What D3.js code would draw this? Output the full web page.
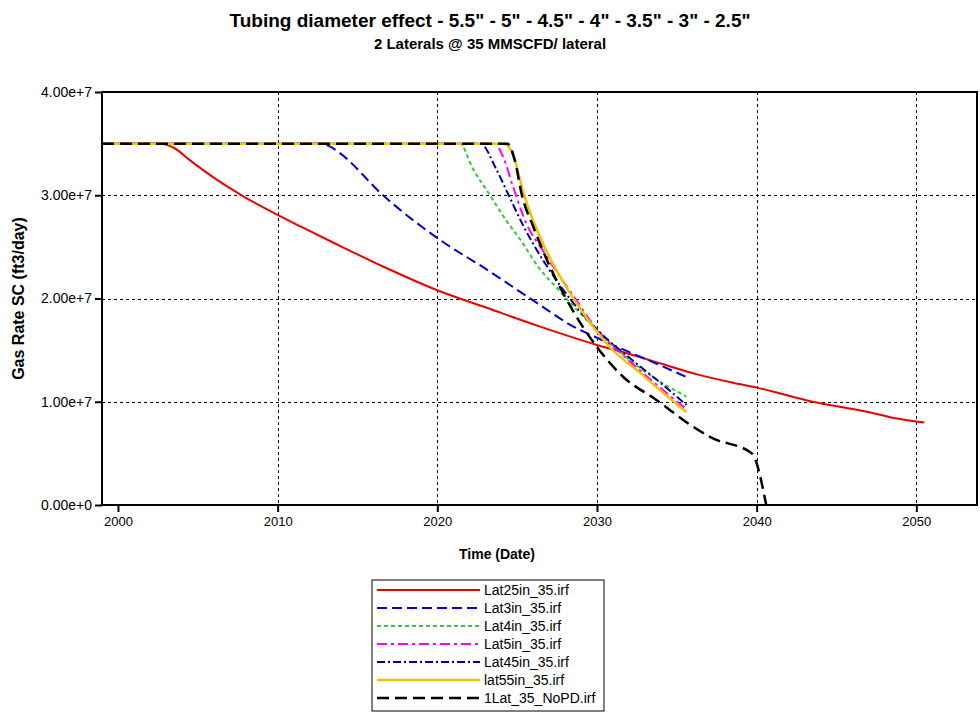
<!DOCTYPE html>
<head>
  <meta charset="utf-8">
  <script src="https://d3js.org/d3.v7.min.js"></script>
  <style>
    body { margin: 0; background: #fff; font-family: "Liberation Sans", Arial, sans-serif; }
    .grid line { stroke: #000; stroke-width: 1; stroke-dasharray: 3,3; shape-rendering: crispEdges; }
    .axis path { display: none; }
    .axis line { stroke: #000; stroke-width: 2; }
    .axis text { font-size: 14px; fill: #000; }
    .x.axis text { font-size: 13px; }
  </style>
</head>
<body>
<script>

// decimal years and gas rates (ft3/day)
var lat25Years = [1999, 2002.7, 2003.5, 2004.5, 2006, 2007.85, 2010, 2011.4, 2013.5, 2016.6, 2020, 2023.1, 2026.4, 2030, 2032.1, 2034, 2036.4, 2038.5, 2040, 2043.5, 2046.9, 2048.5, 2050.5];
var lat25Rates = [3.5e7, 3.5e7, 3.46e7, 3.34e7, 3.17e7, 2.99e7, 2.81e7, 2.70e7, 2.54e7, 2.31e7, 2.08e7, 1.91e7, 1.73e7, 1.55e7, 1.46e7, 1.37e7, 1.26e7, 1.185e7, 1.137e7, 1.00e7, 0.904e7, 0.846e7, 0.80e7];

var lat3Years = [1999, 2012.6, 2013.3, 2013.8, 2016.6, 2020.05, 2023.1, 2026.4, 2028.5, 2030, 2031.6, 2033.7, 2035.6];
var lat3Rates = [3.5e7, 3.5e7, 3.47e7, 3.42e7, 3.0e7, 2.58e7, 2.28e7, 1.94e7, 1.73e7, 1.62e7, 1.51e7, 1.37e7, 1.24e7];

var lat4Years = [1999, 2021.4, 2022.25, 2023.3, 2024.3, 2025.2, 2026.4, 2027.5, 2028.5, 2030, 2032, 2033.5, 2035.6];
var lat4Rates = [3.5e7, 3.5e7, 3.25e7, 3.0e7, 2.76e7, 2.57e7, 2.29e7, 2.10e7, 1.93e7, 1.69e7, 1.41e7, 1.24e7, 1.05e7];

var lat5Years = [1999, 2023.6, 2024.1, 2024.75, 2025.4, 2026.8, 2028.5, 2030, 2032, 2034, 2035.6];
var lat5Rates = [3.5e7, 3.5e7, 3.38e7, 3.08e7, 2.79e7, 2.42e7, 2.03e7, 1.70e7, 1.40e7, 1.13e7, 0.93e7];

var lat45Years = [1999, 2022.7, 2023.7, 2024.5, 2025.4, 2026, 2027.05, 2028.5, 2030, 2032, 2034, 2035.6];
var lat45Rates = [3.5e7, 3.5e7, 3.25e7, 2.99e7, 2.70e7, 2.53e7, 2.27e7, 1.96e7, 1.70e7, 1.43e7, 1.18e7, 0.97e7];

var lat55Years = [1999, 2024.2, 2024.75, 2025.4, 2026.8, 2027.7, 2029.6, 2030.8, 2032.7, 2034.2, 2035.6];
var lat55Rates = [3.5e7, 3.5e7, 3.39e7, 3.02e7, 2.47e7, 2.21e7, 1.76e7, 1.53e7, 1.28e7, 1.08e7, 0.90e7];

var noPDYears = [1999, 2024.4, 2024.85, 2025.3, 2026, 2027.05, 2028.5, 2030, 2031.65, 2033.7, 2036, 2037.2, 2039.7, 2040.6];
var noPDRates = [3.5e7, 3.5e7, 3.34e7, 3.0e7, 2.70e7, 2.31e7, 1.88e7, 1.53e7, 1.24e7, 1.02e7, 0.76e7, 0.65e7, 0.50e7, 0.0];

var seriesNames = ["Lat25in_35.irf", "Lat3in_35.irf", "Lat4in_35.irf", "Lat5in_35.irf", "Lat45in_35.irf", "lat55in_35.irf", "1Lat_35_NoPD.irf"];

var xTicks = [2000, 2010, 2020, 2030, 2040, 2050];
var xGrid = [2010, 2020, 2030, 2040, 2050];
var yTicks = [0, 1e7, 2e7, 3e7, 4e7];
var yGrid = [1e7, 2e7, 3e7];

var series = [
  {name: seriesNames[0], years: lat25Years, rates: lat25Rates, color: "#ee0000", dash: null, w: 2},
  {name: seriesNames[1], years: lat3Years, rates: lat3Rates, color: "#0000dd", dash: "10,5", w: 2},
  {name: seriesNames[2], years: lat4Years, rates: lat4Rates, color: "#33cc33", dash: "4,3", w: 2},
  {name: seriesNames[3], years: lat5Years, rates: lat5Rates, color: "#ff00ff", dash: "10,4,3,4", w: 2},
  {name: seriesNames[4], years: lat45Years, rates: lat45Rates, color: "#000099", dash: "8,3,2,3", w: 2},
  {name: seriesNames[5], years: lat55Years, rates: lat55Rates, color: "#f2c200", dash: null, w: 2.5},
  {name: seriesNames[6], years: noPDYears, rates: noPDRates, color: "#000000", dash: "12,6", w: 2.5}
];

var margin = {top: 92, right: 3, bottom: 210, left: 102},
    width = 980 - margin.left - margin.right,
    height = 715 - margin.top - margin.bottom;

var svg = d3.select("body").append("svg")
    .attr("width", 980)
    .attr("height", 715);

svg.append("rect").attr("width", 980).attr("height", 715).attr("fill", "#fff");

var x = d3.scaleLinear().domain([1999.0, 2053.8]).range([0, width]);
var y = d3.scaleLinear().domain([0, 4e7]).range([height, 0]);

var g = svg.append("g")
    .attr("transform", "translate(" + margin.left + "," + margin.top + ")");

// grid
g.append("g").attr("class", "grid")
  .selectAll("line").data(xGrid).enter().append("line")
    .attr("x1", function(d) { return Math.round(x(d)) + 0.5; })
    .attr("x2", function(d) { return Math.round(x(d)) + 0.5; })
    .attr("y1", 0).attr("y2", height);
g.append("g").attr("class", "grid")
  .selectAll("line").data(yGrid).enter().append("line")
    .attr("y1", function(d) { return Math.round(y(d)) + 0.5; })
    .attr("y2", function(d) { return Math.round(y(d)) + 0.5; })
    .attr("x1", 0).attr("x2", width);

// lines
var line = d3.line()
    .x(function(d) { return x(d[0]); })
    .y(function(d) { return y(d[1]); })
    .curve(d3.curveMonotoneX);

g.selectAll(".series")
    .data(series)
  .enter().append("path")
    .attr("class", "series")
    .attr("fill", "none")
    .attr("stroke", function(d) { return d.color; })
    .attr("stroke-width", function(d) { return d.w; })
    .attr("stroke-dasharray", function(d) { return d.dash; })
    .attr("d", function(d) { return line(d3.zip(d.years, d.rates)); });

// frame
g.append("rect")
    .attr("width", width).attr("height", height)
    .attr("fill", "none").attr("stroke", "#000").attr("stroke-width", 2);

// axes
g.append("g")
    .attr("class", "x axis")
    .attr("transform", "translate(0," + height + ")")
    .call(d3.axisBottom(x).tickValues(xTicks).tickFormat(d3.format("d")).tickSize(7).tickPadding(5));

g.append("g")
    .attr("class", "y axis")
    .call(d3.axisLeft(y).tickValues(yTicks).tickFormat(d3.format(".2e")).tickSize(7).tickPadding(3));

// titles
svg.append("text")
    .attr("x", 490).attr("y", 27)
    .attr("text-anchor", "middle")
    .style("font-size", "19px").style("font-weight", "bold")
    .text("Tubing diameter effect - 5.5\" - 5\" - 4.5\" - 4\" - 3.5\" - 3\" - 2.5\"");

svg.append("text")
    .attr("x", 490).attr("y", 49)
    .attr("text-anchor", "middle")
    .style("font-size", "15px").style("font-weight", "bold")
    .text("2 Laterals @ 35 MMSCFD/ lateral");

svg.append("text")
    .attr("x", 497).attr("y", 559)
    .attr("text-anchor", "middle")
    .style("font-size", "14px").style("font-weight", "bold")
    .text("Time (Date)");

svg.append("text")
    .attr("transform", "translate(24," + (margin.top + height / 2) + ") rotate(-90)")
    .attr("text-anchor", "middle")
    .style("font-size", "16px").style("font-weight", "bold")
    .text("Gas Rate SC (ft3/day)");

// legend
var legend = svg.append("g").attr("transform", "translate(372,580)");

legend.append("rect")
    .attr("width", 232).attr("height", 131)
    .attr("fill", "#fff").attr("stroke", "#000").attr("stroke-width", 1);

var item = legend.selectAll(".legend")
    .data(series)
  .enter().append("g")
    .attr("class", "legend")
    .attr("transform", function(d, i) { return "translate(0," + (10 + i * 18) + ")"; });

item.append("line")
    .attr("x1", 5).attr("x2", 108)
    .attr("stroke", function(d) { return d.color; })
    .attr("stroke-width", function(d) { return d.w; })
    .attr("stroke-dasharray", function(d) { return d.dash; });

item.append("text")
    .attr("x", 112)
    .attr("dy", "0.35em")
    .style("font-size", "14px")
    .text(function(d) { return d.name; });

</script>
</body>
